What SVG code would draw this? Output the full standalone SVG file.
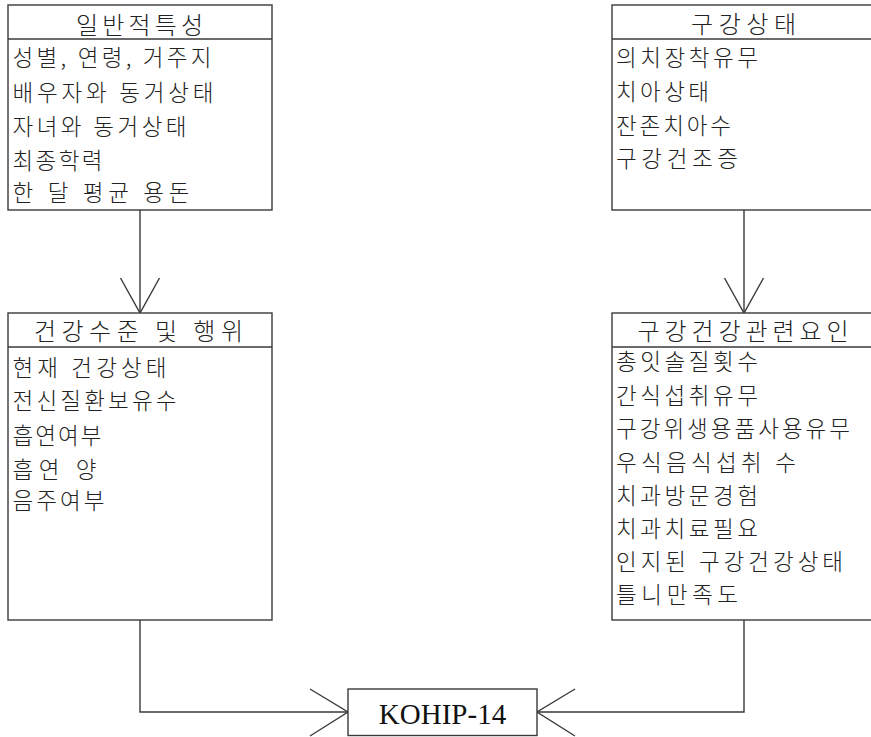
<svg xmlns="http://www.w3.org/2000/svg" width="871" height="737" viewBox="0 0 871 737">
<style>
.box{fill:#fff;stroke:#3a3a3a;stroke-width:1.4}
.div{stroke:#3a3a3a;stroke-width:1.4}
.t{font-family:"Noto Sans CJK KR","Noto Sans",sans-serif;font-size:24px;font-weight:300;fill:#222}
.i{font-family:"Noto Sans CJK KR","Noto Sans",sans-serif;font-size:22.5px;font-weight:300;fill:#222}
.k{font-family:"Liberation Serif","Times New Roman",serif;font-size:29px;fill:#111;text-anchor:middle}
.c{fill:none;stroke:#3a3a3a;stroke-width:1.4}
</style>
<rect width="871" height="737" fill="#fff"/>
<g id="connectors">
<path class="c" d="M140,210 V313"/>
<path class="c" d="M120.5,278 L140,313 L159.5,278"/>
<path class="c" d="M744,210 V313"/>
<path class="c" d="M724.5,278 L744,313 L763.5,278"/>
<path class="c" d="M140,620 V712 H348"/>
<path class="c" d="M310,689 L348,712 L310,736"/>
<path class="c" d="M744,620 V712 H537"/>
<path class="c" d="M575,689 L537,712 L575,736"/>
</g>
<g id="general">
<rect class="box" x="8" y="5" width="264" height="205"/>
<line class="div" x1="8" y1="39" x2="272" y2="39"/>
<text class="t" x="76" y="34" textLength="127" lengthAdjust="spacing">일반적특성</text>
<text class="i" x="12.5" y="66" textLength="199" lengthAdjust="spacing">성별, 연령, 거주지</text>
<text class="i" x="12.5" y="101" textLength="201" lengthAdjust="spacing">배우자와 동거상태</text>
<text class="i" x="12.5" y="134.5" textLength="174" lengthAdjust="spacing">자녀와 동거상태</text>
<text class="i" x="12.5" y="168.5" textLength="90" lengthAdjust="spacing">최종학력</text>
<text class="i" x="12.5" y="201" textLength="177" lengthAdjust="spacing">한 달 평균 용돈</text>
</g>
<g id="oral-status">
<rect class="box" x="612" y="5" width="264" height="205"/>
<line class="div" x1="612" y1="39" x2="876" y2="39"/>
<text class="t" x="691" y="33" textLength="105" lengthAdjust="spacing">구강상태</text>
<text class="i" x="616" y="66" textLength="142" lengthAdjust="spacing">의치장착유무</text>
<text class="i" x="616" y="99.5" textLength="93" lengthAdjust="spacing">치아상태</text>
<text class="i" x="616" y="133.5" textLength="115" lengthAdjust="spacing">잔존치아수</text>
<text class="i" x="616" y="166.5" textLength="122" lengthAdjust="spacing">구강건조증</text>
</g>
<g id="health">
<rect class="box" x="8" y="313" width="264" height="307"/>
<line class="div" x1="8" y1="347" x2="272" y2="347"/>
<text class="t" x="34" y="340" textLength="209" lengthAdjust="spacing">건강수준 및 행위</text>
<text class="i" x="12.5" y="376" textLength="154" lengthAdjust="spacing">현재 건강상태</text>
<text class="i" x="12.5" y="409.3" textLength="164" lengthAdjust="spacing">전신질환보유수</text>
<text class="i" x="12.5" y="443.5" textLength="89" lengthAdjust="spacing">흡연여부</text>
<text class="i" x="12.5" y="477.5" textLength="84" lengthAdjust="spacing">흡연 양</text>
<text class="i" x="12.5" y="509.3" textLength="92" lengthAdjust="spacing">음주여부</text>
</g>
<g id="oral-factors">
<rect class="box" x="612" y="313" width="264" height="307"/>
<line class="div" x1="612" y1="347" x2="876" y2="347"/>
<text class="t" x="637.5" y="339.8" textLength="211" lengthAdjust="spacing">구강건강관련요인</text>
<text class="i" x="616" y="370.2" textLength="142" lengthAdjust="spacing">총잇솔질횟수</text>
<text class="i" x="616" y="403.5" textLength="142" lengthAdjust="spacing">간식섭취유무</text>
<text class="i" x="616" y="437.3" textLength="234" lengthAdjust="spacing">구강위생용품사용유무</text>
<text class="i" x="616" y="470.5" textLength="180" lengthAdjust="spacing">우식음식섭취 수</text>
<text class="i" x="616" y="503.8" textLength="142" lengthAdjust="spacing">치과방문경험</text>
<text class="i" x="616" y="537" textLength="142" lengthAdjust="spacing">치과치료필요</text>
<text class="i" x="616" y="570.3" textLength="227" lengthAdjust="spacing">인지된 구강건강상태</text>
<text class="i" x="616" y="602.5" textLength="122" lengthAdjust="spacing">틀니만족도</text>
</g>
<g id="kohip">
<rect class="box" x="348" y="689" width="189" height="46.5"/>
<text class="k" x="442.5" y="724">KOHIP-14</text>
</g>
</svg>
